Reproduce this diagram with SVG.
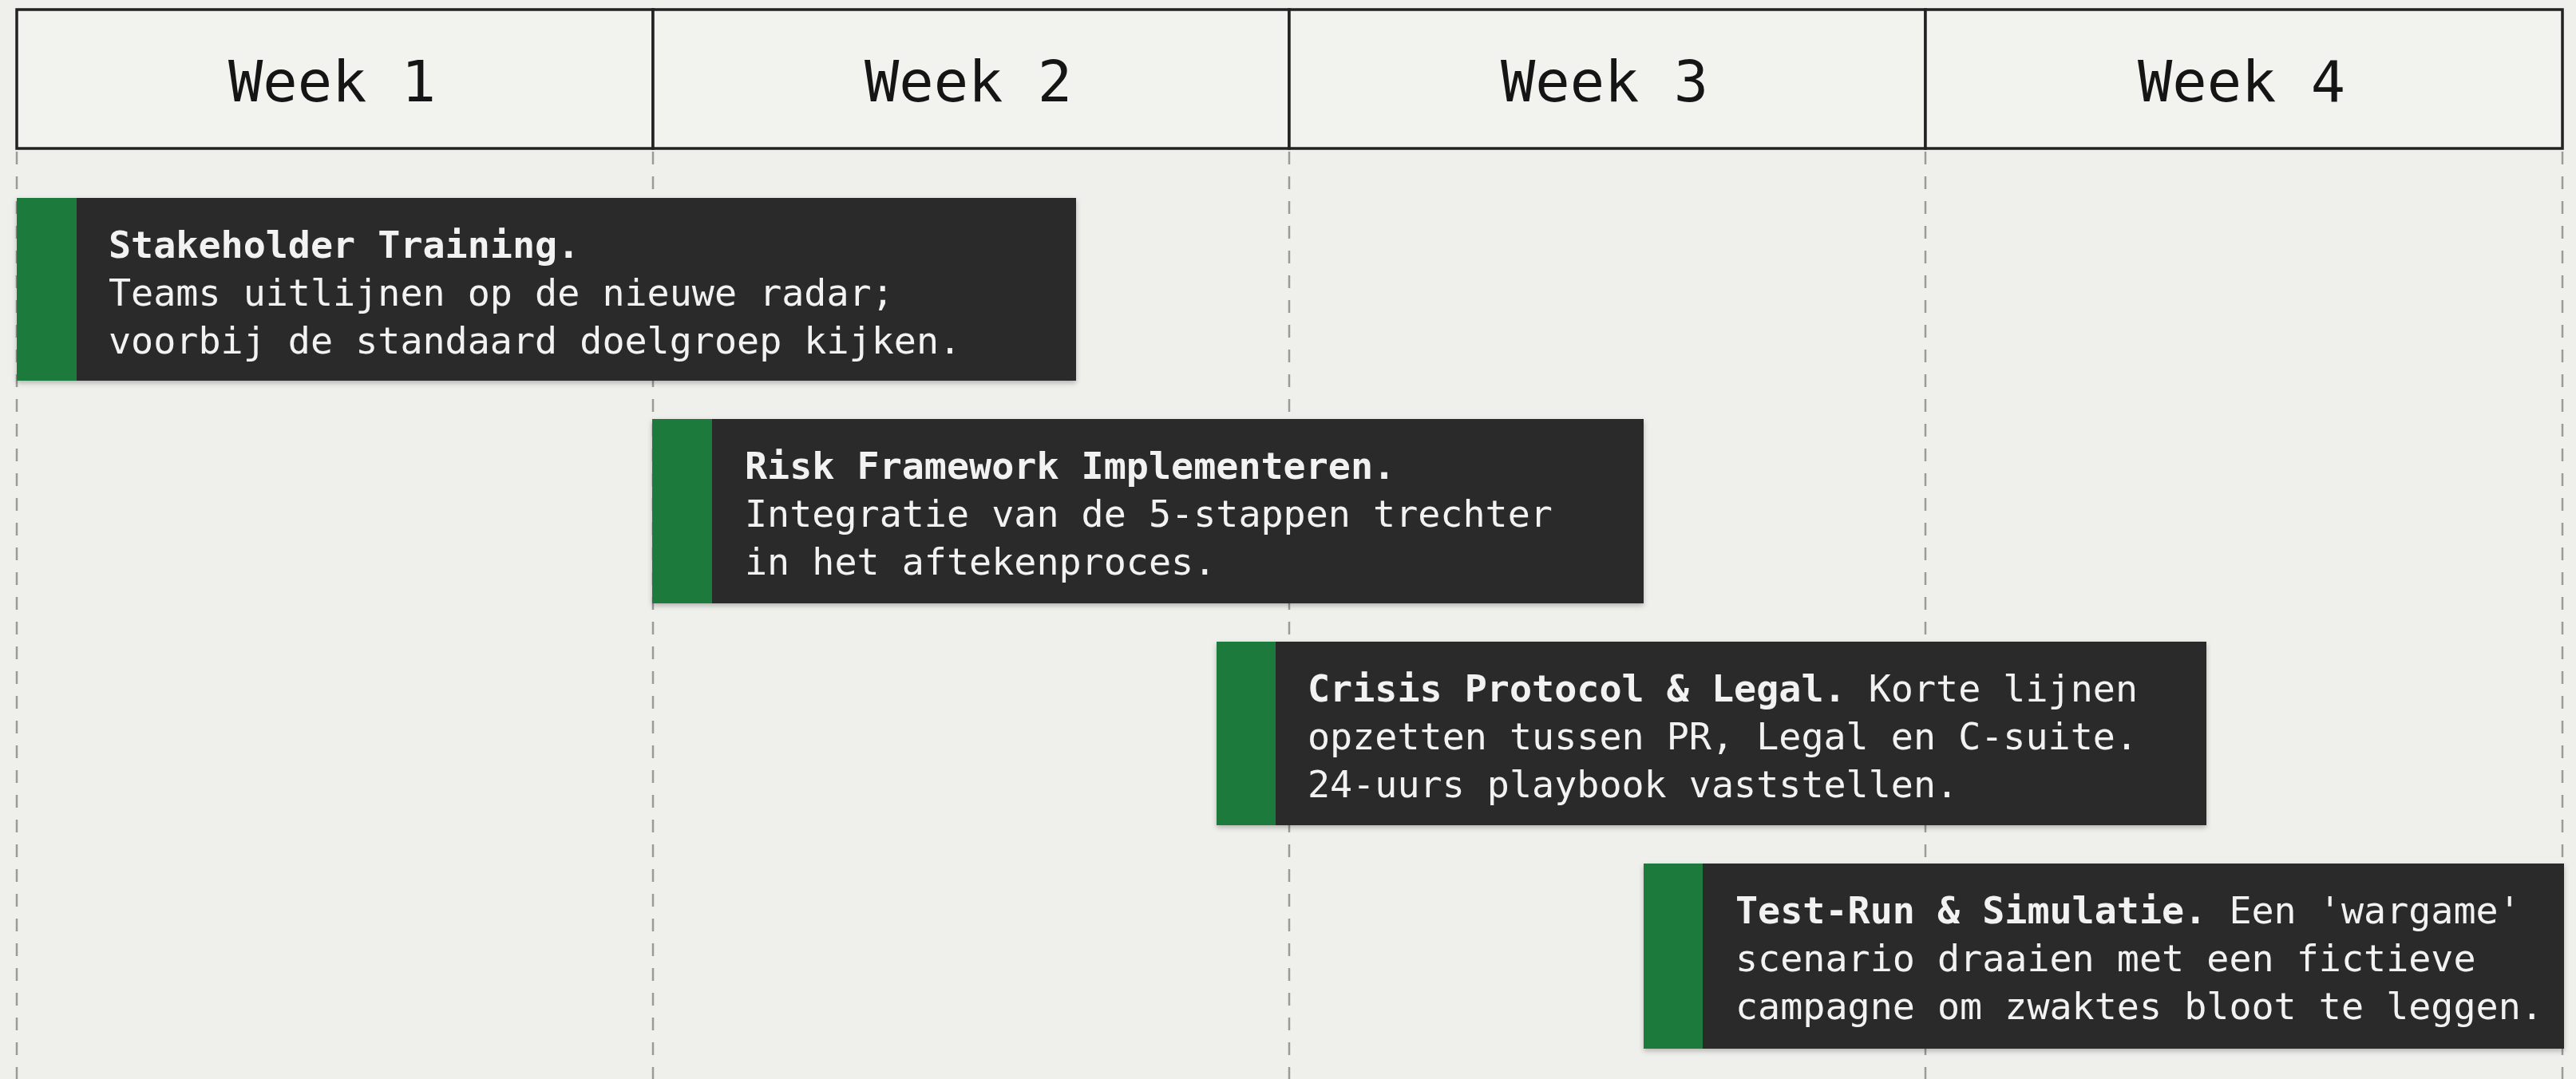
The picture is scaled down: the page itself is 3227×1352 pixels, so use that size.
<svg xmlns="http://www.w3.org/2000/svg" width="3227" height="1352" viewBox="0 0 3227 1352">
  <style>
    .grid { stroke: #9a9a98; stroke-width: 2.5; stroke-dasharray: 16 15; fill: none; }
    .hdr { fill: #f2f2ef; stroke: #222222; stroke-width: 3.5; }
    .wk { font-family: "DejaVu Sans Mono", "Liberation Mono", monospace; font-size: 72px; fill: #151515; text-anchor: middle; }
    .bar { fill: #2c2c2c; }
    .acc { fill: #1f7a3d; }
    .txt { font-family: "DejaVu Sans Mono", "Liberation Mono", monospace; font-size: 46.7px; fill: #f2f2f2; }
    .b { font-weight: bold; }
  </style>
  <defs>
    <filter id="sh" x="-5%" y="-10%" width="110%" height="125%">
      <feDropShadow dx="0" dy="3" stdDeviation="3" flood-color="#000" flood-opacity="0.25"/>
    </filter>
  </defs>
  <rect x="0" y="0" width="3227" height="1352" fill="#efefeb"/>

  <g id="grid">
    <line class="grid" x1="21" y1="190" x2="21" y2="1352"/>
    <line class="grid" x1="818" y1="190" x2="818" y2="1352"/>
    <line class="grid" x1="1615" y1="190" x2="1615" y2="1352"/>
    <line class="grid" x1="2412" y1="190" x2="2412" y2="1352"/>
    <line class="grid" x1="3210" y1="190" x2="3210" y2="1352"/>
  </g>

  <g id="header">
    <rect class="hdr" x="21" y="12" width="797" height="174"/>
    <rect class="hdr" x="818" y="12" width="797" height="174"/>
    <rect class="hdr" x="1615" y="12" width="797" height="174"/>
    <rect class="hdr" x="2412" y="12" width="798" height="174"/>
    <text class="wk" x="416" y="127">Week 1</text>
    <text class="wk" x="1213" y="127">Week 2</text>
    <text class="wk" x="2010" y="127">Week 3</text>
    <text class="wk" x="2808" y="127">Week 4</text>
  </g>

  <g id="task1" filter="url(#sh)">
    <rect class="bar" x="21" y="248" width="1327" height="229"/>
    <rect class="acc" x="21" y="248" width="75" height="229"/>
    <text class="txt" x="136" y="323"><tspan class="b">Stakeholder Training.</tspan></text>
    <text class="txt" x="136" y="383">Teams uitlijnen op de nieuwe radar;</text>
    <text class="txt" x="136" y="443">voorbij de standaard doelgroep kijken.</text>
  </g>

  <g id="task2" filter="url(#sh)">
    <rect class="bar" x="817" y="525" width="1242" height="231"/>
    <rect class="acc" x="817" y="525" width="75" height="231"/>
    <text class="txt" x="933" y="600"><tspan class="b">Risk Framework Implementeren.</tspan></text>
    <text class="txt" x="933" y="660">Integratie van de 5-stappen trechter</text>
    <text class="txt" x="933" y="720">in het aftekenproces.</text>
  </g>

  <g id="task3" filter="url(#sh)">
    <rect class="bar" x="1524" y="804" width="1240" height="230"/>
    <rect class="acc" x="1524" y="804" width="74" height="230"/>
    <text class="txt" x="1638" y="879"><tspan class="b">Crisis Protocol &amp; Legal.</tspan> Korte lijnen</text>
    <text class="txt" x="1638" y="939">opzetten tussen PR, Legal en C-suite.</text>
    <text class="txt" x="1638" y="999">24-uurs playbook vaststellen.</text>
  </g>

  <g id="task4" filter="url(#sh)">
    <rect class="bar" x="2059" y="1082" width="1153" height="232"/>
    <rect class="acc" x="2059" y="1082" width="74" height="232"/>
    <text class="txt" x="2174" y="1157"><tspan class="b">Test-Run &amp; Simulatie.</tspan> Een 'wargame'</text>
    <text class="txt" x="2174" y="1217">scenario draaien met een fictieve</text>
    <text class="txt" x="2174" y="1277">campagne om zwaktes bloot te leggen.</text>
  </g>

  <g id="connectors"/>
</svg>
